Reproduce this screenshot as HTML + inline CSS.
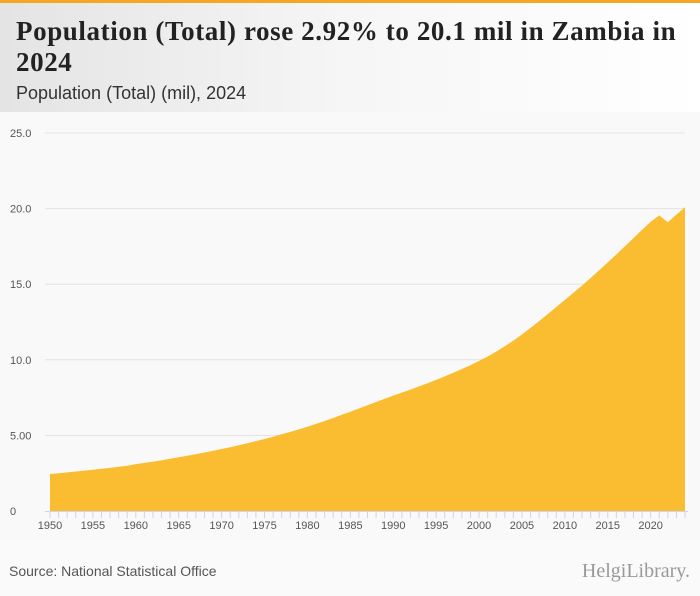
<!DOCTYPE html>
<html><head><meta charset="utf-8"><style>
body{margin:0;width:700px;height:596px;background:#fafafa;font-family:"Liberation Sans",sans-serif;overflow:hidden;position:relative}
#hdr{position:absolute;left:0;top:0;width:700px;height:112px;border-top:3px solid #f5a623;box-sizing:border-box;background:linear-gradient(90deg,#e4e4e4,#f6f6f6 50%,#ffffff)}
#title{position:absolute;left:16px;top:13px;width:690px;font-family:"Liberation Serif",serif;font-weight:bold;font-size:27px;letter-spacing:0.6px;line-height:31px;color:#222;white-space:nowrap}
#sub{position:absolute;left:16px;top:80px;font-size:18px;color:#333}
#src{position:absolute;left:9px;top:563px;font-size:14px;color:#555}
#logo{position:absolute;right:10px;top:560px;font-family:"Liberation Serif",serif;font-size:20px;color:#999}
</style></head><body>
<div id="hdr">
<div id="title">Population (Total) rose 2.92% to 20.1 mil in Zambia in<br>2024</div>
<div id="sub">Population (Total) (mil), 2024</div>
</div>
<svg id="chart" width="700" height="596" style="position:absolute;left:0;top:0"></svg>
<div id="src">Source: National Statistical Office</div>
<div id="logo">HelgiLibrary.</div>
<script>
const years=[];for(let y=1950;y<=2024;y++)years.push(y);
const values=[2.45,2.50,2.55,2.61,2.67,2.73,2.79,2.85,2.92,2.99,
3.10,3.18,3.27,3.36,3.45,3.55,3.65,3.76,3.87,3.98,
4.10,4.22,4.35,4.48,4.62,4.76,4.91,5.07,5.23,5.40,
5.57,5.76,5.95,6.15,6.36,6.57,6.78,7.00,7.21,7.42,
7.63,7.83,8.03,8.24,8.45,8.67,8.90,9.14,9.39,9.65,
9.93,10.22,10.54,10.89,11.27,11.68,12.11,12.56,13.02,13.49,
13.96,14.43,14.91,15.41,15.92,16.44,16.97,17.51,18.05,18.60,
19.13,19.55,19.10,19.60,20.10];
const yTicks=[0,5,10,15,20,25];
const yTickLabels=["0","5.00","10.0","15.0","20.0","25.0"];
const xTickYears=[1950,1955,1960,1965,1970,1975,1980,1985,1990,1995,2000,2005,2010,2015,2020];
const NS="http://www.w3.org/2000/svg",svg=document.getElementById('chart');
const X=y=>50+(y-1950)*(685-50)/74, Y=v=>511-v*(511-133)/25;
function mk(t,a){const e=document.createElementNS(NS,t);for(const k in a)e.setAttribute(k,a[k]);svg.appendChild(e);return e;}
const bg=mk('rect',{x:0,y:112,width:700,height:430,fill:'#f9f9f9'});


yTicks.forEach((t,i)=>{
 if(t>0){const g=mk('line',{x1:45,x2:685,y1:Y(t),y2:Y(t),stroke:'#e2e2e2','stroke-width':1});
 
 }
 const l=mk('text',{x:10,y:Y(t)+4,'font-size':11,fill:'#555','font-family':'Liberation Sans, sans-serif'});l.textContent=yTickLabels[i];
 
 
});
let d='M'+X(years[0])+','+Y(0);
years.forEach((y,i)=>{d+=' L'+X(y).toFixed(1)+','+Y(values[i]).toFixed(1);});
d+=' L'+X(years[years.length-1])+','+Y(0)+' Z';
const a=mk('path',{d:d,fill:'#fabd32'});


const ax=mk('line',{x1:45,x2:688,y1:511.5,y2:511.5,stroke:'#ccd6eb','stroke-width':1});


years.forEach(y=>{const t=mk('line',{x1:X(y),x2:X(y),y1:511,y2:518,stroke:'#ccd6eb','stroke-width':1});
 
 });
xTickYears.forEach(y=>{const l=mk('text',{x:X(y),y:529,'font-size':11,fill:'#555','text-anchor':'middle','font-family':'Liberation Sans, sans-serif'});l.textContent=y;
 
 });
</script>
</body></html>
